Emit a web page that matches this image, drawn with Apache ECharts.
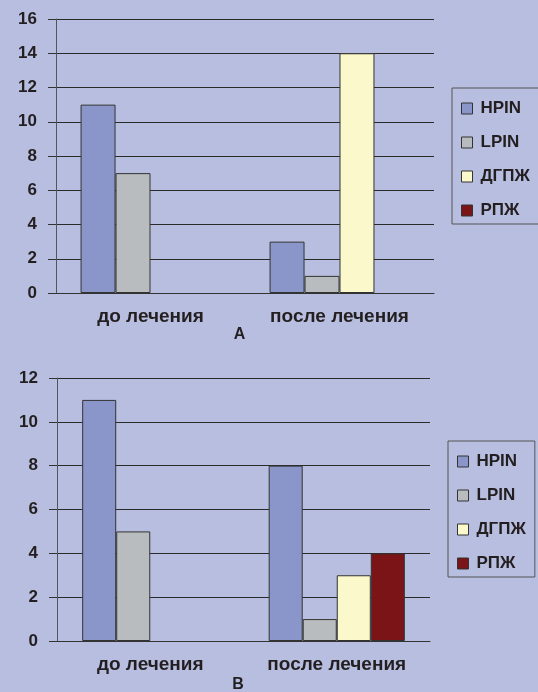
<!DOCTYPE html>
<html>
<head>
<meta charset="utf-8">
<script src="https://cdn.jsdelivr.net/npm/echarts@6/dist/echarts.min.js"></script>
<style>
  html, body { margin: 0; padding: 0; background: #b8bedf; }
  #chart { width: 538px; height: 692px; }
</style>
</head>
<body>
<div id="chart"></div>
<script>
// categories and values
var categories = ['до лечения', 'после лечения'];
var seriesNames = ['HPIN', 'LPIN', 'ДГПЖ', 'РПЖ'];
var colors = ['#8a96c9', '#b9bcbf', '#fbf8cb', '#7b1417'];

// chart А (no bar drawn where the picture has none)
var hpinA = [11, 3];
var lpinA = [7, 1];
var dgpzhA = [null, 14];
var rpzhA = [null, null];

// chart В
var hpinB = [11, 8];
var lpinB = [5, 1];
var dgpzhB = [null, 3];
var rpzhB = [null, 4];

var dataA = [hpinA, lpinA, dgpzhA, rpzhA];
var dataB = [hpinB, lpinB, dgpzhB, rpzhB];

var font = '"Liberation Sans", Arial, sans-serif';
var ink = '#231f20';

function xAx(gridIndex, name, nameGap) {
    return {
        type: 'category',
        gridIndex: gridIndex,
        data: categories,
        name: name,
        nameLocation: 'middle',
        nameGap: nameGap,
        // the letter sits a little left of the plot centre
        nameTextStyle: { color: ink, fontFamily: font, fontWeight: 'bold', fontSize: 16, padding: [0, 11, 0, 0] },
        axisLine: { lineStyle: { color: '#333', width: 1 } },
        axisTick: { length: 7, lineStyle: { color: '#333' } },
        axisLabel: { color: ink, fontFamily: font, fontWeight: 'bold', fontSize: 19, margin: 14 }
    };
}

function yAx(gridIndex, max) {
    return {
        type: 'value',
        gridIndex: gridIndex,
        min: 0,
        max: max,
        interval: 2,
        axisLine: { show: true, lineStyle: { color: '#555', width: 1 } },
        axisTick: { show: true, length: 8, lineStyle: { color: '#333' } },
        splitLine: { lineStyle: { color: '#2a2a2a', width: 1 } },
        axisLabel: { color: ink, fontFamily: font, fontWeight: 'bold', fontSize: 17, margin: 19 }
    };
}

function legendAt(left, top) {
    return {
        orient: 'vertical',
        left: left,
        top: top,
        data: seriesNames,
        icon: 'rect',
        itemWidth: 11,
        itemHeight: 11,
        itemGap: 17,
        padding: [12, 9, 5, 9],
        borderColor: '#555',
        borderWidth: 1,
        itemStyle: { borderColor: '#333', borderWidth: 1 },
        textStyle: { color: ink, fontFamily: font, fontWeight: 'bold', fontSize: 17, padding: [0, 0, 0, 3] }
    };
}

var series = [];
seriesNames.forEach(function (name, i) {
    series.push({
        name: name,
        type: 'bar',
        xAxisIndex: 0,
        yAxisIndex: 0,
        data: dataA[i],
        barGap: '0%',
        barCategoryGap: '26%',
        itemStyle: { color: colors[i], borderColor: '#333', borderWidth: 1 }
    });
});
seriesNames.forEach(function (name, i) {
    series.push({
        name: name,
        type: 'bar',
        xAxisIndex: 1,
        yAxisIndex: 1,
        data: dataB[i],
        barGap: '0%',
        barCategoryGap: '27%',
        itemStyle: { color: colors[i], borderColor: '#333', borderWidth: 1 }
    });
});

var option = {
    backgroundColor: '#b8bedf',
    animation: false,
    grid: [
        { left: 56, right: 104, top: 19, bottom: 399, outerBoundsMode: 'none' },
        { left: 57, right: 108, top: 378, bottom: 51, outerBoundsMode: 'none' }
    ],
    xAxis: [xAx(0, 'А', 34), xAx(1, 'В', 36)],
    yAxis: [yAx(0, 16), yAx(1, 12)],
    legend: [legendAt(452, 88), legendAt(448, 441)],
    series: series
};

var myChart = echarts.init(document.getElementById('chart'));
myChart.setOption(option);
</script>
</body>
</html>
